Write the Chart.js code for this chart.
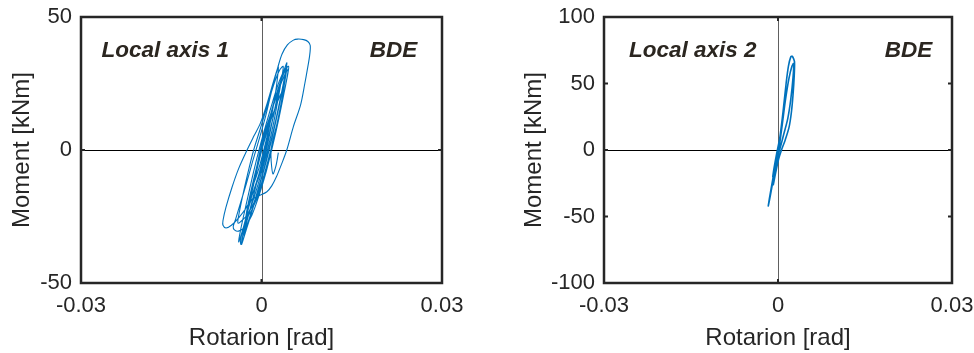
<!DOCTYPE html>
<html><head><meta charset="utf-8">
<script src="https://cdn.jsdelivr.net/npm/chart.js@4.4.0/dist/chart.umd.min.js"></script>
<style>
html,body{margin:0;padding:0;background:#fff;width:974px;height:353px;overflow:hidden;}
.w{position:absolute;top:0;width:487px;height:353px;}
</style></head><body>
<div class="w" style="left:0"><canvas id="c1" width="487" height="353"></canvas></div>
<div class="w" style="left:487px"><canvas id="c2" width="487" height="353"></canvas></div>
<script>
// ---- tick labels / texts ----
const xTicks = [-0.03, 0, 0.03];
const yTicks1 = [-50, 0, 50];
const yTicks2 = [-100, -50, 0, 50, 100];
const panelNames = ['Local axis 1', 'Local axis 2'];
const levelName = 'BDE';
const xTitleText = 'Rotarion [rad]';
const yTitleText = 'Moment [kNm]';

// ---- Local axis 1: rotation [rad], moment [kNm] ----
const rotation1 = [
 0, 0.0005, 0.0010, 0.0015, 0.0013, 0.0006, -0.0002, -0.0008, -0.0012,
 -0.0010, -0.0004, 0.0004, 0.0013, 0.0021, 0.0028,
 0.0026, 0.0019, 0.0010, 0.0001, -0.0009, -0.0017, -0.0022,
 -0.0020, -0.0013, -0.0004, 0.0005, 0.0015, 0.0025, 0.0034, 0.0042,
 0.0041, 0.0036, 0.0027, 0.0017, 0.0006, -0.0006, -0.0017, -0.0026, -0.0033,
 -0.0031, -0.0025, -0.0016, -0.0006, 0.0005, 0.0016, 0.0026, 0.0034, 0.0040,
 0.0038, 0.0031, 0.0022, 0.0012, 0.0001, -0.0010, -0.0020, -0.0027, -0.0030,
 -0.0027, -0.0019, -0.0010, 0.0000, 0.0010, 0.0020, 0.0028,
 0.0026, 0.0019, 0.0010, 0.0000, -0.0012, -0.0025, -0.0038, -0.0050, -0.0059, -0.0064, -0.0064,
 -0.0059, -0.0049, -0.0038, -0.0024, -0.0012, -0.0002, 0.0010, 0.0019, 0.0027, 0.0034, 0.0043, 0.0053, 0.0060, 0.0070, 0.0077, 0.0081,
 0.0080, 0.0076, 0.0072, 0.0065, 0.0053, 0.0042, 0.0033, 0.0025, 0.0017, 0.0009, -0.0005, -0.0016,
 -0.0023, -0.0030, -0.0036, -0.0038,
 -0.0036, -0.0030, -0.0022, -0.0013, -0.0003, 0.0008, 0.0019, 0.0029, 0.0038, 0.0045,
 0.0044, 0.0038, 0.0029, 0.0019, 0.0008, -0.0004, -0.0016, -0.0028, -0.0038, -0.0045, -0.0047,
 -0.0043, -0.0035, -0.0025, -0.0015, -0.0004, 0.0006, 0.0014, 0.0021, 0.0026, 0.0028,
 0.0027, 0.0023, 0.0016, 0.0008, -0.0002, -0.0012, -0.0021, -0.0027, -0.0030,
 -0.0028, -0.0022, -0.0014, -0.0005, 0.0005, 0.0016, 0.0027, 0.0036, 0.0044,
 0.0043, 0.0037, 0.0028, 0.0019, 0.0009, -0.0003, -0.0015, -0.0023, -0.0026,
 -0.0022, -0.0012, -0.0002, 0.0010, 0.0022, 0.0033, 0.0042,
 0.0040, 0.0033, 0.0023, 0.0012, 0.0000, -0.0013, -0.0026, -0.0035, -0.0039, -0.0039,
 -0.0032, -0.0023, -0.0013, -0.0002, 0.0010, 0.0021, 0.0030, 0.0036,
 0.0035, 0.0029, 0.0020, 0.0010, -0.0002, -0.0014, -0.0025, -0.0032, -0.0035, -0.0034,
 -0.0031, -0.0027,
 -0.0023, -0.0016, -0.0007, 0.0003, 0.0013, 0.0023, 0.0031, 0.0035,
 0.0033, 0.0026, 0.0019, 0.0016, 0.0016, 0.0019, 0.0024, 0.0028
];
const moment1 = [
 0, 4, 8.5, 12, 9, 2, -5, -9.5, -12,
 -9, -2, 5.5, 12, 17.5, 22,
 19, 12, 3.5, -5, -12.5, -18, -22,
 -19, -11, -3, 5, 13, 21, 27.5, 32.8,
 30.5, 24, 14, 4, -6, -15.5, -24, -30.5, -35.5,
 -32.5, -25, -16, -6, 4, 13.5, 21.5, 27, 30,
 27, 19, 9.5, 0, -9.5, -18, -25.5, -30, -32,
 -28, -19, -9.5, 0.5, 9, 17, 23,
 20, 12, 2, -7, -15, -21.5, -25.5, -28.3, -29.3, -28.3, -26.5,
 -21.5, -14, -7, 0, 5.5, 10, 18, 25, 31, 36, 39.5, 41.3, 41.7, 41.5, 40.8, 39.3,
 35.5, 30, 25, 17, 8.8, 0, -5.5, -10, -13.5, -15.7, -17.3, -18.5,
 -23, -29, -33.5, -34.5,
 -31.5, -25, -17, -8, 1, 10, 18.5, 25.5, 30, 31.5,
 29, 22, 12, 2, -8, -17, -24.5, -29, -30.5, -30, -28.8,
 -26, -20, -12.5, -4.5, 4, 12, 19.5, 26, 30, 31.3,
 28, 21, 12, 3, -7, -16, -24, -29, -31,
 -28, -21, -12.5, -3.5, 5.5, 14, 21.5, 27, 30.2,
 28, 21, 11.5, 2, -7, -15.5, -22, -25, -25.5,
 -20, -10, -1, 9, 19, 26.5, 31,
 27.5, 18, 7, -3, -12.5, -20, -25, -27, -27.5, -26,
 -18, -9, 0, 8, 17, 25, 30, 31.5,
 29, 21, 10, 0, -10, -19, -26, -31, -34.5, -35.5,
 -32, -27,
 -22, -15, -6.5, 2, 9.5, 16, 20.5, 22,
 18, 10, 4, 0, -4, -9, -6, -1
];

// ---- Local axis 2: rotation [rad], moment [kNm] ----
const rotation2 = [
 0, -0.0004, -0.0009, -0.0007, -0.0002, 0.0003, 0.0008, 0.0012, 0.0010, 0.0006, 0.0001,
 -0.0005, -0.0011, -0.00167, -0.0015, -0.0009, -0.0002, 0.0004, 0.0009, 0.0014, 0.0018, 0.0022,
 0.00245, 0.0027, 0.00285, 0.0028, 0.0026, 0.0023, 0.0019, 0.0012, 0.0006, 0.0001, -0.0004, -0.0008,
 -0.0005, 0.0000, 0.0003, 0.0007, 0.0013, 0.0019, 0.0024, 0.0027, 0.0026, 0.0022, 0.0017, 0.0010, 0.0004, -0.0001
];
const moment2 = [
 0, -8, -20, -14, -2, 9, 24, 38, 31, 15, 1,
 -14, -29, -42, -37, -22, -5, 12, 30, 50, 63, 70,
 70.5, 68.5, 66, 56, 42, 28, 17, 7, 0, -7, -17, -26,
 -18, -6, 5, 18, 38, 54, 63, 65, 55, 38, 24, 12, 2, -6
];

const FONT = '"Liberation Sans", Arial, Helvetica, sans-serif';
const TXT = '#262626';

const deco = {
  id: 'panelDeco',
  beforeDatasetsDraw(chart) {
    const {ctx, chartArea: a, scales: {x, y}} = chart;
    const x0 = Math.round(x.getPixelForValue(0)) + 0.5;
    const y0 = Math.round(y.getPixelForValue(0)) + 0.5;
    ctx.save();
    ctx.lineWidth = 1;
    ctx.strokeStyle = '#606060';
    ctx.beginPath(); ctx.moveTo(x0, a.top); ctx.lineTo(x0, a.bottom); ctx.stroke();
    ctx.strokeStyle = '#000';
    ctx.beginPath(); ctx.moveTo(a.left, y0); ctx.lineTo(a.right, y0); ctx.stroke();
    ctx.restore();
  },
  afterDraw(chart, args, opts) {
    const {ctx, chartArea: a, scales: {x, y}} = chart;
    ctx.save();
    ctx.strokeStyle = '#262626';
    ctx.lineWidth = 2.5;
    ctx.strokeRect(a.left, a.top, a.right - a.left, a.bottom - a.top);
    ctx.lineWidth = 2;
    const tl = 4;
    x.ticks.forEach(t => {
      const px = x.getPixelForValue(t.value);
      if (px <= a.left + 1 || px >= a.right - 1) return;
      ctx.beginPath(); ctx.moveTo(px, a.bottom); ctx.lineTo(px, a.bottom - tl); ctx.stroke();
      ctx.beginPath(); ctx.moveTo(px, a.top); ctx.lineTo(px, a.top + tl); ctx.stroke();
    });
    y.ticks.forEach(t => {
      const py = y.getPixelForValue(t.value);
      if (py <= a.top + 1 || py >= a.bottom - 1) return;
      ctx.beginPath(); ctx.moveTo(a.left, py); ctx.lineTo(a.left + tl, py); ctx.stroke();
      ctx.beginPath(); ctx.moveTo(a.right, py); ctx.lineTo(a.right - tl, py); ctx.stroke();
    });
    ctx.fillStyle = '#2b2620';
    ctx.font = 'italic bold 22.5px ' + FONT;
    ctx.textBaseline = 'alphabetic';
    ctx.textAlign = 'left';
    ctx.fillText(opts.name, x.getPixelForValue(opts.nameX), y.getPixelForValue(opts.textY));
    ctx.fillText(opts.level, x.getPixelForValue(opts.levelX), y.getPixelForValue(opts.textY));
    ctx.restore();
  }
};

function makePanel(id, rot, mom, yTicks, cfg) {
  const pts = rot.map((r, i) => ({x: r, y: mom[i]}));
  return new Chart(document.getElementById(id), {
    type: 'scatter',
    data: {datasets: [{
      data: pts, showLine: true, pointRadius: 0, borderColor: '#0072BD',
      borderWidth: cfg.lw, tension: 0.3, fill: false
    }]},
    options: {
      responsive: false, animation: false, devicePixelRatio: 1,
      layout: {padding: {left: 0, top: 17, right: cfg.padRight, bottom: 0}},
      plugins: {
        legend: {display: false}, tooltip: {enabled: false},
        panelDeco: {name: cfg.name, level: levelName, nameX: cfg.nameX, levelX: cfg.levelX, textY: cfg.textY}
      },
      scales: {
        x: {
          type: 'linear', min: xTicks[0], max: xTicks[xTicks.length - 1],
          afterBuildTicks(s) { s.ticks = xTicks.map(v => ({value: v})); },
          afterFit(s) { s.height = 70; s.paddingLeft = 0; s.paddingRight = 0; },
          ticks: {padding: 10, color: TXT, font: {family: FONT, size: 22},
            maxRotation: 0, autoSkip: false,
            callback: v => (Math.abs(v) < 1e-12 ? '0' : v.toFixed(2))},
          grid: {display: false, drawTicks: false},
          border: {display: false},
          title: {display: true, text: xTitleText, color: TXT,
            font: {family: FONT, size: 24}, padding: {top: 0, bottom: 0}}
        },
        y: {
          type: 'linear', min: yTicks[0], max: yTicks[yTicks.length - 1],
          afterBuildTicks(s) { s.ticks = yTicks.map(v => ({value: v})); },
          afterFit(s) { s.width = cfg.yWidth; s.paddingTop = 0; s.paddingBottom = 0; },
          ticks: {padding: 9, color: TXT, font: {family: FONT, size: 22},
            autoSkip: false, callback: v => String(v)},
          grid: {display: false, drawTicks: false},
          border: {display: false},
          title: {display: true, text: yTitleText, color: TXT,
            font: {family: FONT, size: 24}, padding: {top: cfg.yTitlePad, bottom: 0}}
        }
      }
    },
    plugins: [deco]
  });
}

makePanel('c1', rotation1, moment1, yTicks1,
  {lw: 1.1, padRight: 45, yWidth: 81, yTitlePad: 8.3, name: panelNames[0], nameX: -0.0266, levelX: 0.018, textY: 35});
makePanel('c2', rotation2, moment2, yTicks2,
  {lw: 1.6, padRight: 22, yWidth: 117, yTitlePad: 33.3, name: panelNames[1], nameX: -0.0257, levelX: 0.0184, textY: 70});
</script>
</body></html>
